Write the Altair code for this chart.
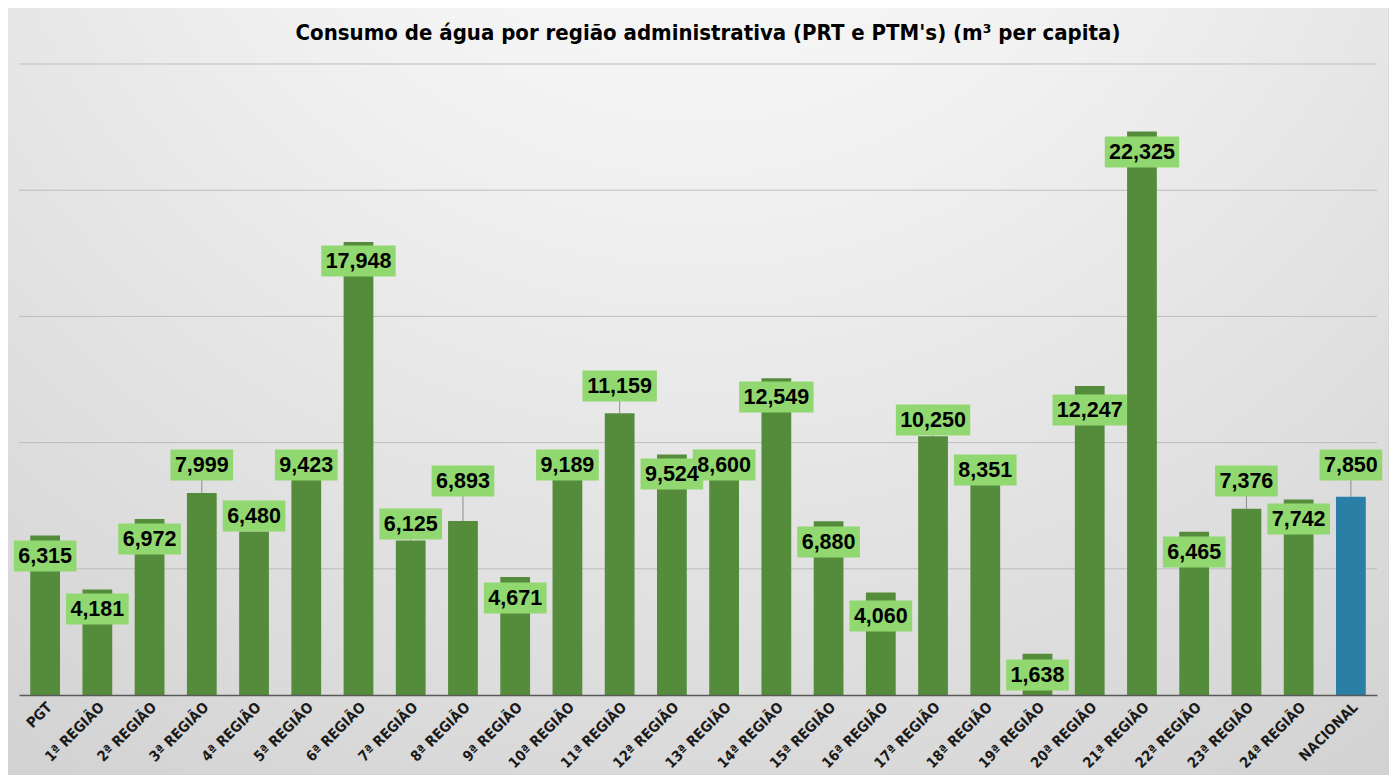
import altair as alt
import pandas as pd

categories = ["PGT"] + [f"{i}ª REGIÃO" for i in range(1, 25)] + ["NACIONAL"]
values = [6315, 4181, 6972, 7999, 6480, 9423, 17948, 6125, 6893, 4671,
          9189, 11159, 9524, 8600, 12549, 6880, 4060, 10250, 8351, 1638,
          12247, 22325, 6465, 7376, 7742, 7850]
# label anchor (centre of the data label) in data units, as placed in the original
label_at = [5507, 3407, 6181, 9113, 7092, 9113, 17195, 6775, 8479, 3843,
            9113, 12242, 8756, 9113, 11807, 6062, 3130, 10895, 8914, 792,
            11292, 21513, 5666, 8479, 6973, 9113]
groups = ["regiao"] * 25 + ["nacional"]
grid_values = [5000, 10000, 15000, 20000, 25000]

df = pd.DataFrame({"cat": categories, "val": values, "lab": label_at, "grp": groups})

W, H = 1358, 631
NARROW = "Liberation Sans Narrow, DejaVu Sans Condensed, sans-serif"
x = alt.X("cat:N", sort=categories, title=None,
          scale=alt.Scale(paddingInner=0.43, paddingOuter=0.215),
          axis=alt.Axis(labelAngle=-45, labelFont=NARROW,
                        labelFontWeight="bold", labelFontSize=14.5, labelColor="#1a1a1a",
                        domainColor="#595959", domainWidth=1.5, ticks=False, labelPadding=5,
                        zindex=1))
yscale = alt.Scale(domain=[0, 25000], nice=False)
yaxis = alt.Axis(labels=False, ticks=False, domain=False, grid=False, title=None)

bg = alt.Chart(alt.Data(values=[{}])).mark_rect(
    fill=alt.RadialGradient(gradient="radial", x1=0.5, y1=0.0, r1=0.0, x2=0.5, y2=0.0, r2=1.05,
                            stops=[alt.GradientStop(offset=0, color="#ffffff"),
                                   alt.GradientStop(offset=0.35, color="#f0f0f0"),
                                   alt.GradientStop(offset=1, color="#cbcbcb")]),
    stroke="#d0d0d0", strokeWidth=1
).encode(x=alt.value(-12), x2=alt.value(W + 12), y=alt.value(-57), y2=alt.value(H + 80))

grid = alt.Chart(alt.Data(values=[{"g": v} for v in grid_values])).mark_rule(
    color="#bdbdbd", strokeWidth=1
).encode(y=alt.Y("g:Q", scale=yscale, axis=yaxis), x=alt.value(0), x2=alt.value(W))

base = alt.Chart(df)

bars = base.mark_bar().encode(
    x=x,
    y=alt.Y("val:Q", scale=yscale, axis=yaxis),
    color=alt.Color("grp:N", scale=alt.Scale(domain=["regiao", "nacional"],
                                             range=["#548c3c", "#2a7fa6"]), legend=None),
)

leaders = base.transform_filter("datum.lab > datum.val").mark_rule(
    color="#8c8c8c", strokeWidth=1
).encode(x=alt.X("cat:N", sort=categories), y=alt.Y("val:Q", scale=yscale, axis=yaxis), y2="lab:Q")

boxes = base.transform_calculate(
    lo="datum.lab - 614",
    hi="datum.lab + 614",
    w="length(format(datum.val, ',')) * 11.7 - 5.8 + 10"
).mark_bar(color="#92d870").encode(
    x=alt.X("cat:N", sort=categories),
    y=alt.Y("lo:Q", scale=yscale, axis=yaxis),
    y2="hi:Q",
    size=alt.Size("w:Q", scale=None, legend=None),
)

texts = base.mark_text(
    font="Liberation Sans, Arial, sans-serif", fontWeight="bold", fontSize=21.5,
    color="#000000", baseline="middle", dy=1
).encode(x=alt.X("cat:N", sort=categories), y=alt.Y("lab:Q", scale=yscale, axis=yaxis),
         text=alt.Text("val:Q", format=","))

title = alt.Chart(alt.Data(values=[{}])).mark_text(
    text="Consumo de água por região administrativa (PRT e PTM's) (m³ per capita)",
    font=NARROW, fontWeight="bold",
    fontSize=22, color="#000000", align="center", baseline="middle"
).encode(x=alt.value(W / 2 + 10), y=alt.value(-31))

chart = alt.layer(bg, grid, bars, leaders, boxes, texts, title).properties(
    width=W, height=H,
    autosize=alt.AutoSizeParams(type="none"),
    padding={"left": 11, "top": 56, "right": 12, "bottom": 80},
).configure_view(stroke=None).configure(background="white")

chart.save("out.html", embed_options={"renderer": "svg", "actions": False})
